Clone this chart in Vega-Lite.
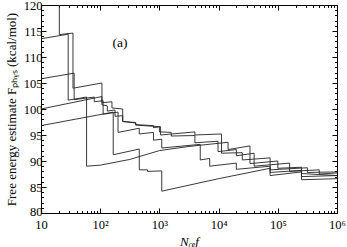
{
  "$schema": "https://vega.github.io/schema/vega-lite/v6.json",
  "width": 296,
  "height": 208,
  "autosize": {"type": "none"},
  "padding": {"left": 41, "top": 5, "right": 10, "bottom": 34},
  "config": {
    "font": "Liberation Serif",
    "view": {"stroke": null},
    "axis": {
      "labelFont": "Liberation Serif",
      "titleFont": "Liberation Serif",
      "labelColor": "black",
      "titleColor": "black",
      "domainColor": "black",
      "tickColor": "black",
      "grid": false,
      "labelFontSize": 12.5,
      "titleFontSize": 13,
      "titleFontWeight": "normal"
    }
  },
  "datasets": {
    "runs": [
      {"s": "A", "i": 1, "n": 10, "f": 125},
      {"s": "A", "i": 2, "n": 20.4, "f": 125},
      {"s": "A", "i": 3, "n": 20.4, "f": 114.3},
      {"s": "A", "i": 4, "n": 34.7, "f": 114.6},
      {"s": "A", "i": 5, "n": 34.7, "f": 104.0},
      {"s": "A", "i": 6, "n": 107, "f": 105.0},
      {"s": "A", "i": 7, "n": 107, "f": 100.8},
      {"s": "A", "i": 8, "n": 132, "f": 100.6},
      {"s": "A", "i": 9, "n": 132, "f": 99.6},
      {"s": "A", "i": 10, "n": 178, "f": 99.8},
      {"s": "A", "i": 11, "n": 178, "f": 98.6},
      {"s": "A", "i": 12, "n": 240, "f": 98.7},
      {"s": "A", "i": 13, "n": 240, "f": 97.6},
      {"s": "A", "i": 14, "n": 398, "f": 97.4},
      {"s": "A", "i": 15, "n": 398, "f": 97.0},
      {"s": "A", "i": 16, "n": 794, "f": 96.8},
      {"s": "A", "i": 17, "n": 794, "f": 96.4},
      {"s": "A", "i": 18, "n": 1047, "f": 96.6},
      {"s": "A", "i": 19, "n": 1047, "f": 95.0},
      {"s": "A", "i": 20, "n": 3981, "f": 95.6},
      {"s": "A", "i": 21, "n": 3981, "f": 95.0},
      {"s": "A", "i": 22, "n": 11220, "f": 95.2},
      {"s": "A", "i": 23, "n": 11220, "f": 91.5},
      {"s": "A", "i": 24, "n": 25119, "f": 91.6},
      {"s": "A", "i": 25, "n": 25119, "f": 90.2},
      {"s": "A", "i": 26, "n": 74131, "f": 90.6},
      {"s": "A", "i": 27, "n": 74131, "f": 88.3},
      {"s": "A", "i": 28, "n": 316228, "f": 88.7},
      {"s": "A", "i": 29, "n": 316228, "f": 87.8},
      {"s": "A", "i": 30, "n": 1000000, "f": 87.9},

      {"s": "B", "i": 1, "n": 10, "f": 113.5},
      {"s": "B", "i": 2, "n": 28.8, "f": 114.4},
      {"s": "B", "i": 3, "n": 28.8, "f": 101.7},
      {"s": "B", "i": 4, "n": 58.9, "f": 102.3},
      {"s": "B", "i": 5, "n": 58.9, "f": 89.0},
      {"s": "B", "i": 6, "n": 100, "f": 89.2},
      {"s": "B", "i": 7, "n": 316, "f": 90.3},
      {"s": "B", "i": 8, "n": 1000, "f": 92.0},
      {"s": "B", "i": 9, "n": 3162, "f": 92.8},
      {"s": "B", "i": 10, "n": 14454, "f": 93.6},
      {"s": "B", "i": 11, "n": 14454, "f": 92.2},
      {"s": "B", "i": 12, "n": 33884, "f": 92.9},
      {"s": "B", "i": 13, "n": 33884, "f": 89.5},
      {"s": "B", "i": 14, "n": 100000, "f": 90.0},
      {"s": "B", "i": 15, "n": 100000, "f": 88.6},
      {"s": "B", "i": 16, "n": 251189, "f": 88.8},
      {"s": "B", "i": 17, "n": 251189, "f": 87.6},
      {"s": "B", "i": 18, "n": 1000000, "f": 87.2},

      {"s": "C", "i": 1, "n": 10, "f": 105.8},
      {"s": "C", "i": 2, "n": 36.3, "f": 106.9},
      {"s": "C", "i": 3, "n": 36.3, "f": 101.8},
      {"s": "C", "i": 4, "n": 79.4, "f": 102.3},
      {"s": "C", "i": 5, "n": 79.4, "f": 101.4},
      {"s": "C", "i": 6, "n": 112, "f": 101.6},
      {"s": "C", "i": 7, "n": 112, "f": 99.0},
      {"s": "C", "i": 8, "n": 200, "f": 99.4},
      {"s": "C", "i": 9, "n": 200, "f": 95.5},
      {"s": "C", "i": 10, "n": 457, "f": 96.3},
      {"s": "C", "i": 11, "n": 457, "f": 95.2},
      {"s": "C", "i": 12, "n": 794, "f": 95.5},
      {"s": "C", "i": 13, "n": 794, "f": 94.0},
      {"s": "C", "i": 14, "n": 1096, "f": 94.2},
      {"s": "C", "i": 15, "n": 1096, "f": 92.5},
      {"s": "C", "i": 16, "n": 4898, "f": 93.2},
      {"s": "C", "i": 17, "n": 4898, "f": 90.2},
      {"s": "C", "i": 18, "n": 7079, "f": 90.5},
      {"s": "C", "i": 19, "n": 7079, "f": 89.0},
      {"s": "C", "i": 20, "n": 19953, "f": 89.6},
      {"s": "C", "i": 21, "n": 19953, "f": 88.4},
      {"s": "C", "i": 22, "n": 74131, "f": 89.0},
      {"s": "C", "i": 23, "n": 74131, "f": 87.8},
      {"s": "C", "i": 24, "n": 251189, "f": 88.2},
      {"s": "C", "i": 25, "n": 251189, "f": 87.0},
      {"s": "C", "i": 26, "n": 1000000, "f": 87.2},

      {"s": "D", "i": 1, "n": 10, "f": 100.0},
      {"s": "D", "i": 2, "n": 107, "f": 102.4},
      {"s": "D", "i": 3, "n": 107, "f": 101.2},
      {"s": "D", "i": 4, "n": 158, "f": 101.4},
      {"s": "D", "i": 5, "n": 158, "f": 100.2},
      {"s": "D", "i": 6, "n": 240, "f": 100.0},
      {"s": "D", "i": 7, "n": 240, "f": 97.6},
      {"s": "D", "i": 8, "n": 398, "f": 97.3},
      {"s": "D", "i": 9, "n": 398, "f": 96.9},
      {"s": "D", "i": 10, "n": 1000, "f": 96.6},
      {"s": "D", "i": 11, "n": 1000, "f": 95.6},
      {"s": "D", "i": 12, "n": 1585, "f": 95.5},
      {"s": "D", "i": 13, "n": 1585, "f": 94.8},
      {"s": "D", "i": 14, "n": 3981, "f": 94.9},
      {"s": "D", "i": 15, "n": 3981, "f": 93.5},
      {"s": "D", "i": 16, "n": 9772, "f": 93.8},
      {"s": "D", "i": 17, "n": 9772, "f": 91.8},
      {"s": "D", "i": 18, "n": 19953, "f": 92.2},
      {"s": "D", "i": 19, "n": 19953, "f": 91.0},
      {"s": "D", "i": 20, "n": 39811, "f": 91.5},
      {"s": "D", "i": 21, "n": 39811, "f": 89.0},
      {"s": "D", "i": 22, "n": 158489, "f": 89.6},
      {"s": "D", "i": 23, "n": 158489, "f": 88.0},
      {"s": "D", "i": 24, "n": 501187, "f": 88.3},
      {"s": "D", "i": 25, "n": 501187, "f": 87.5},
      {"s": "D", "i": 26, "n": 1000000, "f": 87.7},

      {"s": "E", "i": 1, "n": 10, "f": 96.8},
      {"s": "E", "i": 2, "n": 166, "f": 99.4},
      {"s": "E", "i": 3, "n": 166, "f": 91.2},
      {"s": "E", "i": 4, "n": 457, "f": 92.3},
      {"s": "E", "i": 5, "n": 457, "f": 88.3},
      {"s": "E", "i": 6, "n": 631, "f": 88.3},
      {"s": "E", "i": 7, "n": 631, "f": 88.0},
      {"s": "E", "i": 8, "n": 1096, "f": 88.1},
      {"s": "E", "i": 9, "n": 1096, "f": 84.2},
      {"s": "E", "i": 10, "n": 10000, "f": 86.6},
      {"s": "E", "i": 11, "n": 74131, "f": 88.6},
      {"s": "E", "i": 12, "n": 74131, "f": 87.2},
      {"s": "E", "i": 13, "n": 251189, "f": 87.9},
      {"s": "E", "i": 14, "n": 251189, "f": 86.4},
      {"s": "E", "i": 15, "n": 1000000, "f": 86.6}
    ],
    "label": [{"n": 215, "f": 112.7, "t": "(a)"}]
  },
  "resolve": {"axis": {"x": "independent", "y": "independent"}},
  "layer": [
    {
      "data": {"name": "runs"},
      "mark": {"type": "line", "stroke": "#222", "strokeWidth": 0.9, "clip": true, "interpolate": "linear"},
      "encoding": {
        "x": {
          "field": "n", "type": "quantitative",
          "scale": {"type": "log", "domain": [10, 1000000], "nice": false},
          "axis": {
            "orient": "bottom",
            "title": "Nᵣₑf",
            "titleFontStyle": "italic",
            "titlePadding": 2,
            "values": [10,20,30,40,50,60,70,80,90,100,200,300,400,500,600,700,800,900,1000,2000,3000,4000,5000,6000,7000,8000,9000,10000,20000,30000,40000,50000,60000,70000,80000,90000,100000,200000,300000,400000,500000,600000,700000,800000,900000,1000000],
            "labelExpr": "datum.value == 10 ? '10' : datum.value == 100 ? '10²' : datum.value == 1000 ? '10³' : datum.value == 10000 ? '10⁴' : datum.value == 100000 ? '10⁵' : datum.value == 1000000 ? '10⁶' : ''",
            "tickSize": {"condition": {"test": "indexof([10,100,1000,10000,100000,1000000], datum.value) >= 0", "value": -5}, "value": -2.5},
            "labelPadding": 10,
            "labelFlush": false,
            "labelOverlap": false
          }
        },
        "y": {
          "field": "f", "type": "quantitative",
          "scale": {"domain": [80, 120], "nice": false, "zero": false},
          "axis": {
            "orient": "left",
            "title": "Free energy estimate Fₚₕᵧₛ (kcal/mol)",
            "titlePadding": 5,
            "values": [80,81,82,83,84,85,86,87,88,89,90,91,92,93,94,95,96,97,98,99,100,101,102,103,104,105,106,107,108,109,110,111,112,113,114,115,116,117,118,119,120],
            "labelExpr": "datum.value % 5 == 0 ? datum.label : ''",
            "tickSize": {"condition": {"test": "datum.value % 5 == 0", "value": -5}, "value": -2.5},
            "labelOffset": {"condition": {"test": "datum.value == 80", "value": -2}, "value": 0},
            "labelPadding": 4,
            "labelFlush": false,
            "labelOverlap": false
          }
        },
        "detail": {"field": "s"},
        "order": {"field": "i", "type": "quantitative"}
      }
    },
    {
      "data": {"name": "label"},
      "mark": {"type": "text", "fontSize": 13.5, "font": "Liberation Serif", "color": "black"},
      "encoding": {
        "x": {
          "field": "n", "type": "quantitative",
          "axis": {
            "orient": "top", "title": null, "labels": false,
            "values": [10,20,30,40,50,60,70,80,90,100,200,300,400,500,600,700,800,900,1000,2000,3000,4000,5000,6000,7000,8000,9000,10000,20000,30000,40000,50000,60000,70000,80000,90000,100000,200000,300000,400000,500000,600000,700000,800000,900000,1000000],
            "tickSize": {"condition": {"test": "indexof([10,100,1000,10000,100000,1000000], datum.value) >= 0", "value": -5}, "value": -2.5}
          }
        },
        "y": {
          "field": "f", "type": "quantitative",
          "axis": {
            "orient": "right", "title": null, "labels": false,
            "values": [80,81,82,83,84,85,86,87,88,89,90,91,92,93,94,95,96,97,98,99,100,101,102,103,104,105,106,107,108,109,110,111,112,113,114,115,116,117,118,119,120],
            "tickSize": {"condition": {"test": "datum.value % 5 == 0", "value": -5}, "value": -2.5}
          }
        },
        "text": {"field": "t"}
      }
    }
  ]
}
